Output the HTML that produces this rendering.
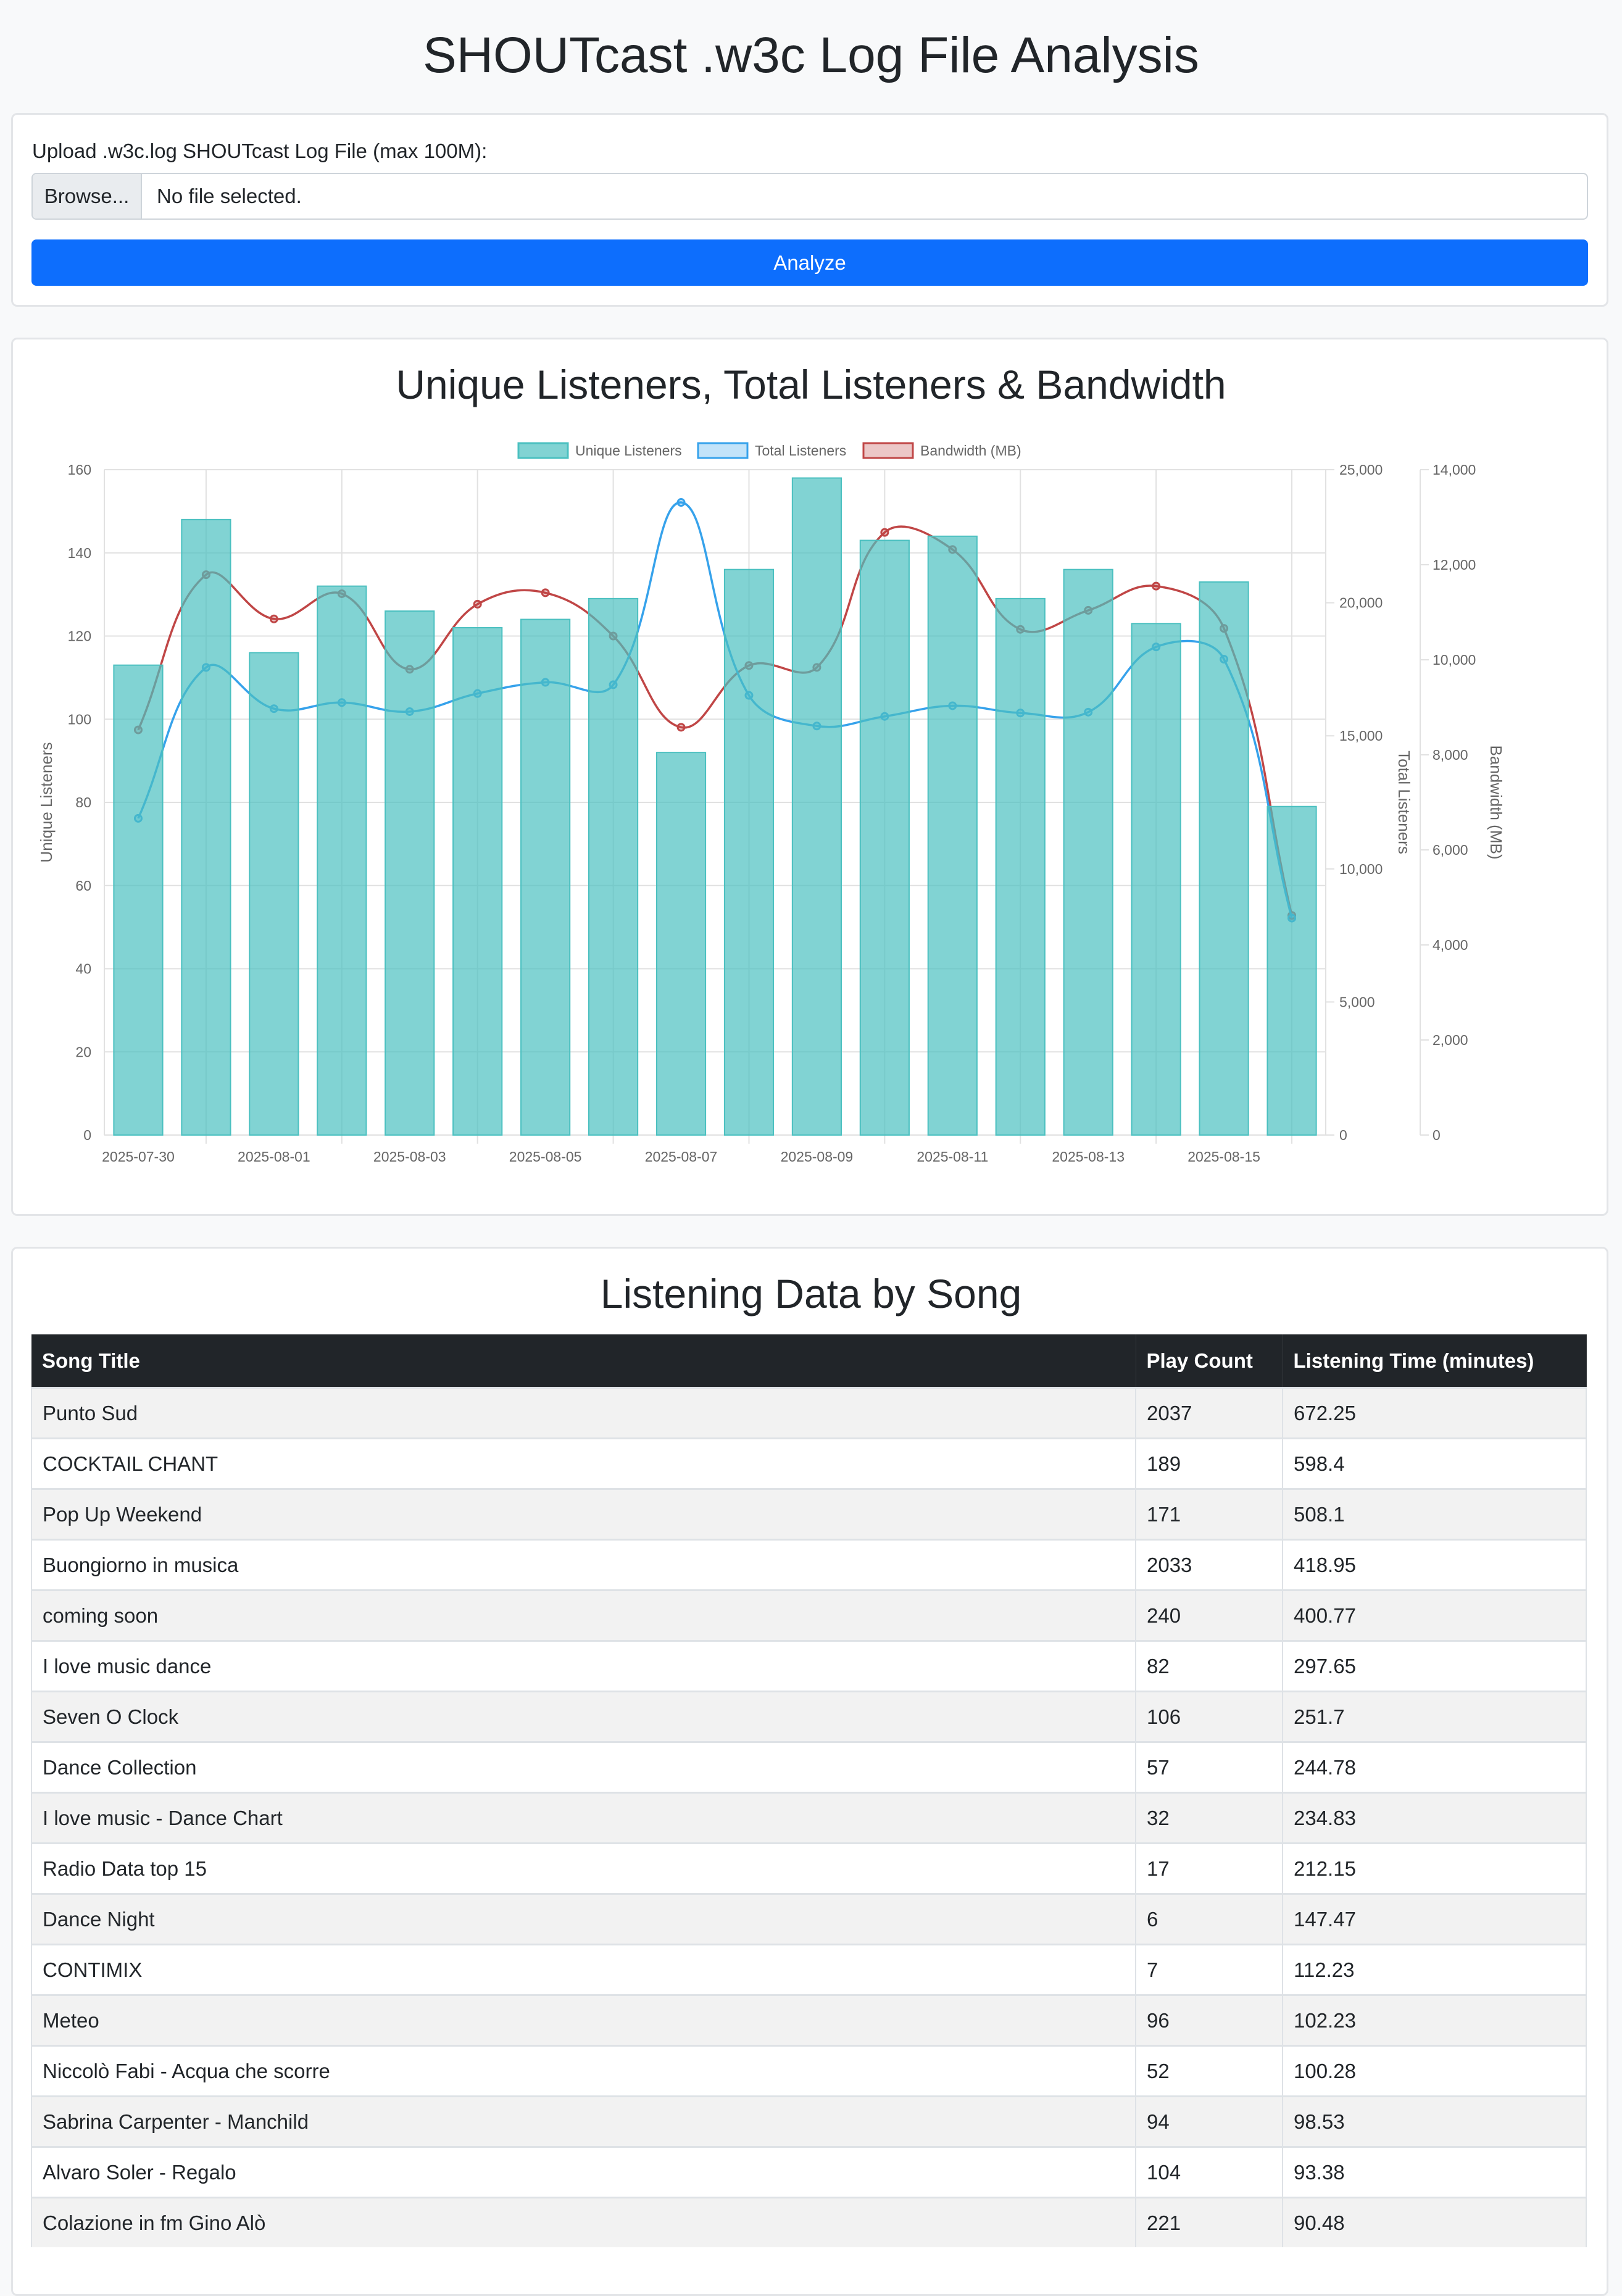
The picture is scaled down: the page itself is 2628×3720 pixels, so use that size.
<!DOCTYPE html>
<html><head><meta charset="utf-8">
<style>
html,body{margin:0;padding:0;}
body{width:2628px;height:3630px;overflow:hidden;background:#f8f9fa;position:relative;font-family:"Liberation Sans",sans-serif;color:#212529;}
.abs{position:absolute;}
.card{position:absolute;left:18px;width:2588px;background:#fff;border:3px solid #e3e5e8;border-radius:10px;box-sizing:border-box;}
h1,h2{margin:0;font-weight:normal;text-align:center;position:absolute;left:0;width:2628px;}
table{position:absolute;left:50px;top:2162px;width:2521px;border-collapse:collapse;font-size:33px;table-layout:fixed;}
th{background:#212529;color:#fff;text-align:left;font-weight:bold;height:85px;padding:0 17px;border-right:1px solid #373b3e;}
td{height:79px;padding:0 17px;border-top:3px solid #dee2e6;border-right:2px solid #dee2e6;}
tr:nth-child(odd) td{background:#f2f2f2;}
tr td:first-child{border-left:2px solid #dee2e6;}
</style></head>
<body>
<h1 style="top:40px;font-size:82px;line-height:100px;">SHOUTcast .w3c Log File Analysis</h1>

<div class="card" style="top:183px;height:314px;"></div>
<div class="abs" style="left:52px;top:222px;font-size:33px;line-height:46px;">Upload .w3c.log SHOUTcast Log File (max 100M):</div>
<div class="abs" style="left:51px;top:280px;width:2522px;height:76px;border:2px solid #ced4da;border-radius:8px;box-sizing:border-box;background:#fff;overflow:hidden;">
  <div style="position:absolute;left:0;top:0;width:175px;height:72px;background:#e9ecef;border-right:2px solid #ced4da;font-size:33px;line-height:72px;text-align:center;">Browse...</div>
  <div style="position:absolute;left:201px;top:0;font-size:33px;line-height:72px;">No file selected.</div>
</div>
<div class="abs" style="left:51px;top:388px;width:2522px;height:75px;background:#0d6efd;border-radius:8px;color:#fff;font-size:33px;line-height:75px;text-align:center;">Analyze</div>

<div class="card" style="top:547px;height:423px;height:1423px;"></div>
<h2 style="top:580px;font-size:66px;line-height:86px;">Unique Listeners, Total Listeners &amp; Bandwidth</h2>
<svg id="chart" class="abs" style="left:0;top:0;" width="2628" height="1960" font-family="Liberation Sans, sans-serif"></svg>

<div class="card" style="top:2020px;height:1700px;"></div>
<h2 style="top:2053px;font-size:66px;line-height:86px;">Listening Data by Song</h2>
<table>
<colgroup><col style="width:1789px"><col style="width:238px"><col></colgroup>
<thead><tr><th>Song Title</th><th>Play Count</th><th>Listening Time (minutes)</th></tr></thead>
<tbody>
<tr><td>Punto Sud</td><td>2037</td><td>672.25</td></tr>
<tr><td>COCKTAIL CHANT</td><td>189</td><td>598.4</td></tr>
<tr><td>Pop Up Weekend</td><td>171</td><td>508.1</td></tr>
<tr><td>Buongiorno in musica</td><td>2033</td><td>418.95</td></tr>
<tr><td>coming soon</td><td>240</td><td>400.77</td></tr>
<tr><td>I love music dance</td><td>82</td><td>297.65</td></tr>
<tr><td>Seven O Clock</td><td>106</td><td>251.7</td></tr>
<tr><td>Dance Collection</td><td>57</td><td>244.78</td></tr>
<tr><td>I love music - Dance Chart</td><td>32</td><td>234.83</td></tr>
<tr><td>Radio Data top 15</td><td>17</td><td>212.15</td></tr>
<tr><td>Dance Night</td><td>6</td><td>147.47</td></tr>
<tr><td>CONTIMIX</td><td>7</td><td>112.23</td></tr>
<tr><td>Meteo</td><td>96</td><td>102.23</td></tr>
<tr><td>Niccolò Fabi - Acqua che scorre</td><td>52</td><td>100.28</td></tr>
<tr><td>Sabrina Carpenter - Manchild</td><td>94</td><td>98.53</td></tr>
<tr><td>Alvaro Soler - Regalo</td><td>104</td><td>93.38</td></tr>
<tr><td>Colazione in fm Gino Alò</td><td>221</td><td>90.48</td></tr>
</tbody></table>

<script>
const categories = ["2025-07-30","2025-07-31","2025-08-01","2025-08-02","2025-08-03","2025-08-04","2025-08-05","2025-08-06","2025-08-07","2025-08-08","2025-08-09","2025-08-10","2025-08-11","2025-08-12","2025-08-13","2025-08-14","2025-08-15","2025-08-16"];
const uniqueListeners = [113,148,116,132,126,122,124,129,92,136,158,143,144,129,136,123,133,79];
const totalListeners = [11900,17570,16020,16250,15910,16590,17010,16920,23770,16520,15370,15730,16130,15860,15890,18340,17880,8150];
const bandwidthMB = [8525,11790,10860,11390,9800,11170,11410,10500,8580,9880,9840,12680,12320,10640,11040,11550,10660,4620];
const leftTicks = [0,20,40,60,80,100,120,140,160];
const totalTicks = [0,5000,10000,15000,20000,25000];
const bwTicks = [0,2000,4000,6000,8000,10000,12000,14000];

const svg = document.getElementById('chart');
const NS = 'http://www.w3.org/2000/svg';
const L = 169, R = 2148, T = 761, B = 1839;
const BWX = 2301;
const n = categories.length;
const cw = (R - L) / n;
const xC = i => L + cw * (i + 0.5);
const yLeft = v => B - (v / 160) * (B - T);
const yTotal = v => B - (v / 25000) * (B - T);
const yBw = v => B - (v / 14000) * (B - T);
const fmt = v => v.toLocaleString('en-US');

function mk(tag, attrs, parent) {
  const e = document.createElementNS(NS, tag);
  for (const k in attrs) e.setAttribute(k, attrs[k]);
  (parent || svg).appendChild(e);
  return e;
}

// grid
leftTicks.forEach(t => {
  const y = yLeft(t);
  const g = mk('line', {x1: L, x2: R, y1: y, y2: y, stroke: '#e1e1e1', 'stroke-width': 2});
  
  
  const tx = mk('text', {x: 148, y: y + 8, 'text-anchor': 'end', 'font-size': 23, fill: '#666'});
  tx.textContent = t;
  
  
});
for (let i = 1; i < n; i += 2) {
  const x = xC(i);
  const g = mk('line', {x1: x, x2: x, y1: T, y2: B + 14, stroke: '#e1e1e1', 'stroke-width': 2});
  
  
}
mk('line', {x1: L, x2: L, y1: T, y2: B, stroke: '#e1e1e1', 'stroke-width': 2});
mk('line', {x1: R, x2: R, y1: T, y2: B, stroke: '#e1e1e1', 'stroke-width': 2});
mk('line', {x1: BWX, x2: BWX, y1: T, y2: B, stroke: '#e1e1e1', 'stroke-width': 2});
mk('line', {x1: L, x2: R, y1: B, y2: B, stroke: '#e1e1e1', 'stroke-width': 2});

totalTicks.forEach(t => {
  const y = yTotal(t);
  mk('line', {x1: R, x2: R + 14, y1: y, y2: y, stroke: '#e1e1e1', 'stroke-width': 2});
  const tx = mk('text', {x: 2170, y: y + 8, 'font-size': 23, fill: '#666'});
  tx.textContent = fmt(t);
  
  
});
bwTicks.forEach(t => {
  const y = yBw(t);
  mk('line', {x1: BWX, x2: BWX + 14, y1: y, y2: y, stroke: '#e1e1e1', 'stroke-width': 2});
  const tx = mk('text', {x: 2321, y: y + 8, 'font-size': 23, fill: '#666'});
  tx.textContent = fmt(t);
  
  
});
categories.forEach((c, i) => {
  if (i % 2) return;
  const tx = mk('text', {x: xC(i), y: 1882, 'text-anchor': 'middle', 'font-size': 23, fill: '#666'});
  tx.textContent = c;
  
  
});

// axis titles
let at = mk('text', {x: 0, y: 0, 'text-anchor': 'middle', 'font-size': 26, fill: '#666', transform: 'translate(84,1300) rotate(-90)'});
at.textContent = 'Unique Listeners';


at = mk('text', {x: 0, y: 0, 'text-anchor': 'middle', 'font-size': 26, fill: '#666', transform: 'translate(2266,1300) rotate(90)'});
at.textContent = 'Total Listeners';


at = mk('text', {x: 0, y: 0, 'text-anchor': 'middle', 'font-size': 26, fill: '#666', transform: 'translate(2415,1300) rotate(90)'});
at.textContent = 'Bandwidth (MB)';



// spline path (Chart.js style tension 0.4)
function spline(pts) {
  const t = 0.4;
  const cps = pts.map((p, i) => {
    const p0 = pts[i - 1] || p, p2 = pts[i + 1] || p;
    const d01 = Math.hypot(p[0] - p0[0], p[1] - p0[1]);
    const d12 = Math.hypot(p2[0] - p[0], p2[1] - p[1]);
    let s01 = d01 / (d01 + d12), s12 = d12 / (d01 + d12);
    if (isNaN(s01)) s01 = 0; if (isNaN(s12)) s12 = 0;
    const fa = t * s01, fb = t * s12;
    return {
      prev: [p[0] - fa * (p2[0] - p0[0]), p[1] - fa * (p2[1] - p0[1])],
      next: [p[0] + fb * (p2[0] - p0[0]), p[1] + fb * (p2[1] - p0[1])]
    };
  });
  let d = 'M' + pts[0][0] + ',' + pts[0][1];
  for (let i = 1; i < pts.length; i++) {
    const a = cps[i - 1].next, b = cps[i].prev;
    d += ' C' + a[0] + ',' + a[1] + ' ' + b[0] + ',' + b[1] + ' ' + pts[i][0] + ',' + pts[i][1];
  }
  return d;
}
function drawLine(vals, yf, color, fill, name) {
  const pts = vals.map((v, i) => [xC(i), yf(v)]);
  const p = mk('path', {d: spline(pts), fill: 'none', stroke: color, 'stroke-width': 3.5});
  
  
  pts.forEach(pt => {
    const c = mk('circle', {cx: pt[0], cy: pt[1], r: 5.5, fill: fill, stroke: color, 'stroke-width': 3});
    
    
  });
}
drawLine(bandwidthMB, yBw, 'rgb(192,70,70)', 'rgba(192,70,70,0.3)', 'bandwidth');
drawLine(totalListeners, yTotal, 'rgb(54,162,235)', 'rgba(54,162,235,0.3)', 'total-listeners');

// bars on top
const bw = cw * 0.72;
uniqueListeners.forEach((v, i) => {
  const y = yLeft(v);
  const r = mk('rect', {x: xC(i) - bw / 2, y: y, width: bw, height: B - y, fill: 'rgba(75,192,192,0.7)', stroke: 'rgb(75,192,192)', 'stroke-width': 2});
  
  
});

// legend
const legend = [
  ['Unique Listeners', 840, 'rgba(75,192,192,0.7)', 'rgb(75,192,192)'],
  ['Total Listeners', 1131, 'rgba(54,162,235,0.3)', 'rgb(54,162,235)'],
  ['Bandwidth (MB)', 1399, 'rgba(192,70,70,0.3)', 'rgb(192,70,70)']
];
legend.forEach(l => {
  const r = mk('rect', {x: l[1], y: 718, width: 80, height: 24, fill: l[2], stroke: l[3], 'stroke-width': 3});
  
  
  const tx = mk('text', {x: l[1] + 92, y: 738, 'font-size': 23, fill: '#666'});
  tx.textContent = l[0];
  
  
});
</script>
</body></html>
